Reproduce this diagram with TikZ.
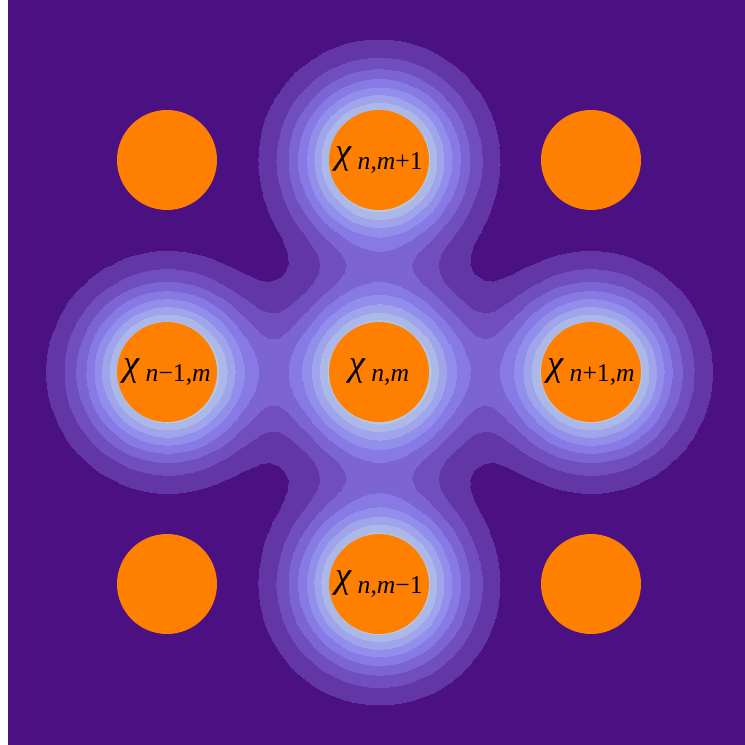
\documentclass[tikz,border=0pt]{standalone}
\usepackage{fontspec}
\setmainfont{Liberation Serif}
\usepackage{pgfplots}
\pgfplotsset{compat=1.18}
\definecolor{Backdrop}{HTML}{4B1082}
\definecolor{LobeOrange}{HTML}{FF8000}
\pgfplotsset{
  colormap={densityBands}{
    rgb255(0)=(75,16,130) rgb255(8)=(98,55,165) rgb255(16)=(112,78,190)
    rgb255(24)=(124,100,210) rgb255(32)=(135,122,228) rgb255(40)=(146,142,236)
    rgb255(48)=(160,164,234) rgb255(56)=(172,184,232) rgb255(64)=(182,200,228)
    rgb255(101)=(182,200,228)
  }
}
\tikzset{
  lobe/.style={circle,fill=LobeOrange,minimum size=1cm,inner sep=0pt,
    font=\fontsize{10.4}{12}\selectfont},
}
\newcommand{\idx}[1]{\textit{#1}}
\newcommand{\chiSub}[1]{\textit{χ}\kern1.6pt\raisebox{-1.7pt}{\fontsize{7.3}{8}\selectfont #1}}

\begin{document}
\begin{tikzpicture}
  \useasboundingbox (-3.79,-3.73) rectangle (3.66,3.72);
  \fill[Backdrop] (-3.71,-3.72) rectangle (3.66,3.72);

  % Density of the five occupied orbitals
  \begin{axis}[hide axis,scale only axis,width=7.37cm,height=7.44cm,
    at={(-3.71cm,-3.72cm)},anchor=south west,view={0}{90},
    xmin=-1.75,xmax=1.7264,ymin=-1.7547,ymax=1.7547,
    domain=-1.75:1.7264,y domain=-1.7547:1.7547,samples=80,
    colormap name=densityBands,colormap access=piecewise constant,
    point meta min=0,point meta max=1.01]
    \addplot3[surf,shader=interp]
      {exp(-(x^2+y^2)/0.129)+exp(-((x-1)^2+y^2)/0.129)+exp(-((x+1)^2+y^2)/0.129)
       +exp(-(x^2+(y-1)^2)/0.129)+exp(-(x^2+(y+1)^2)/0.129)};
  \end{axis}

  % Lattice sites
  \node[lobe] (nm)  at (0,0)       {\chiSub{\idx{n},\idx{m}}};
  \node[lobe] (nmU) at (0,2.12)    {\chiSub{\idx{n},\idx{m}+1}};
  \node[lobe] (nmD) at (0,-2.12)   {\chiSub{\idx{n},\idx{m}−1}};
  \node[lobe] (nLm) at (-2.12,0)   {\chiSub{\idx{n}−1,\idx{m}}};
  \node[lobe] (nRm) at (2.12,0)    {\chiSub{\idx{n}+1,\idx{m}}};
  \node[lobe] (cUL) at (-2.12,2.12)  {};
  \node[lobe] (cUR) at (2.12,2.12)   {};
  \node[lobe] (cDL) at (-2.12,-2.12) {};
  \node[lobe] (cDR) at (2.12,-2.12)  {};
\end{tikzpicture}
\end{document}
